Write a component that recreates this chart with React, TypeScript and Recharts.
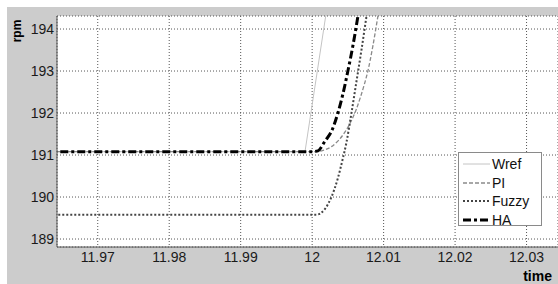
import { LineChart, Line, XAxis, YAxis, CartesianGrid, Legend } from 'recharts';

const timeTicks = [11.97, 11.98, 11.99, 12, 12.01, 12.02, 12.03];
const rpmTicks = [189, 190, 191, 192, 193, 194];

const wrefTime = [11.96, 11.999, 12.004];
const wrefRpm = [191.08, 191.08, 196.65];

const piTime = [11.96, 12.0008, 12.0013, 12.0027, 12.0046, 12.0055, 12.0062, 12.0068, 12.0073, 12.0078, 12.0085, 12.0092, 12.01];
const piRpm = [191.08, 191.08, 191.1, 191.2, 191.55, 191.82, 192.1, 192.4, 192.68, 193.0, 193.6, 194.3, 195.1];

const fuzzyTime = [11.96, 12.0006, 12.0018, 12.0027, 12.0036, 12.0042, 12.0048, 12.0055, 12.0062, 12.0069, 12.0076, 12.0084];
const fuzzyRpm = [189.58, 189.58, 189.72, 190.0, 190.45, 190.85, 191.3, 192.0, 192.75, 193.5, 194.3, 195.2];

const haTime = [11.96, 12.0, 12.0008, 12.0018, 12.0028, 12.0036, 12.0043, 12.005, 12.0057, 12.0064, 12.0072];
const haRpm = [191.08, 191.08, 191.1, 191.33, 191.6, 192.0, 192.45, 193.0, 193.6, 194.3, 195.2];

const toPoints = (t: number[], v: number[]) => t.map((x, i) => ({ t: x, v: v[i] }));

const FONT = '"Liberation Sans", Arial, sans-serif';

const series = [
  { name: 'Wref', data: toPoints(wrefTime, wrefRpm), stroke: '#c4c4c4', width: 1, dash: undefined as string | undefined, curve: 'linear' },
  { name: 'PI', data: toPoints(piTime, piRpm), stroke: '#8a8a8a', width: 1.3, dash: '4 2', curve: 'monotone' },
  { name: 'Fuzzy', data: toPoints(fuzzyTime, fuzzyRpm), stroke: '#444', width: 2, dash: '2 2', curve: 'monotone' },
  { name: 'HA', data: toPoints(haTime, haRpm), stroke: '#000', width: 3, dash: '8 3 3 3', curve: 'monotone' },
];

const LegendBox = () => (
  <div
    style={{
      width: 82,
      height: 72,
      background: '#fff',
      border: '1px solid #8a8a8a',
      position: 'relative',
      fontFamily: FONT,
      fontSize: 14,
      color: '#111',
    }}
  >
    {series.map((s, i) => (
      <div
        key={s.name}
        style={{ position: 'absolute', left: 4, top: 2 + i * 18.7, height: 18, display: 'flex', alignItems: 'center' }}
      >
        <svg width={27} height={6} style={{ marginRight: 2 }}>
          <line x1={0} y1={3} x2={27} y2={3} stroke={s.stroke} strokeWidth={s.width} strokeDasharray={s.dash} />
        </svg>
        <span style={{ lineHeight: '18px' }}>{s.name}</span>
      </div>
    ))}
  </div>
);

export default function App() {
  return (
    <div
      style={{
        position: 'absolute',
        left: 7,
        top: 7,
        width: 551,
        height: 277,
        background: '#cccccc',
        fontFamily: FONT,
      }}
    >
      <LineChart width={551} height={277} margin={{ top: 9, right: 0, bottom: 0, left: 0 }}>
        <CartesianGrid fill="#fff" stroke="#555" strokeDasharray="1 2" />
        <XAxis
          type="number"
          dataKey="t"
          domain={[11.9643, 12.0344]}
          ticks={timeTicks}
          allowDataOverflow
          height={37}
          tickLine={false}
          tickSize={4}
          tickMargin={1}
          axisLine={{ stroke: '#555' }}
          tick={{ fontSize: 14, fill: '#1a1a1a', fontFamily: FONT }}
          tickFormatter={(v: number) => String(v)}
          label={() => (
            <text x={545} y={274} textAnchor="end" fontSize={14} fontWeight="bold" fill="#000" fontFamily={FONT}>
              time
            </text>
          )}
        />
        <YAxis
          type="number"
          dataKey="v"
          domain={[188.81, 194.31]}
          ticks={rpmTicks}
          allowDataOverflow
          width={50}
          tickLine={false}
          tickSize={2}
          tickMargin={1}
          axisLine={{ stroke: '#555' }}
          tick={{ fontSize: 14, fill: '#1a1a1a', fontFamily: FONT }}
          label={() => (
            <text
              x={13.8}
              y={24}
              transform="rotate(-90, 13.8, 24)"
              textAnchor="middle"
              fontSize={12}
              fontWeight="bold"
              fill="#000"
              fontFamily={FONT}
            >
              rpm
            </text>
          )}
        />
        <Legend
          layout="horizontal"
          verticalAlign="middle"
          align="center"
          content={() => <LegendBox />}
          wrapperStyle={{ left: 451, top: 145, width: 84, height: 74 }}
        />
        {series.map((s) => (
          <Line
            key={s.name}
            name={s.name}
            data={s.data}
            dataKey="v"
            type={s.curve as any}
            stroke={s.stroke}
            strokeWidth={s.width}
            strokeDasharray={s.dash}
            dot={false}
            activeDot={false}
            isAnimationActive={false}
          />
        ))}
      </LineChart>
    </div>
  );
}
